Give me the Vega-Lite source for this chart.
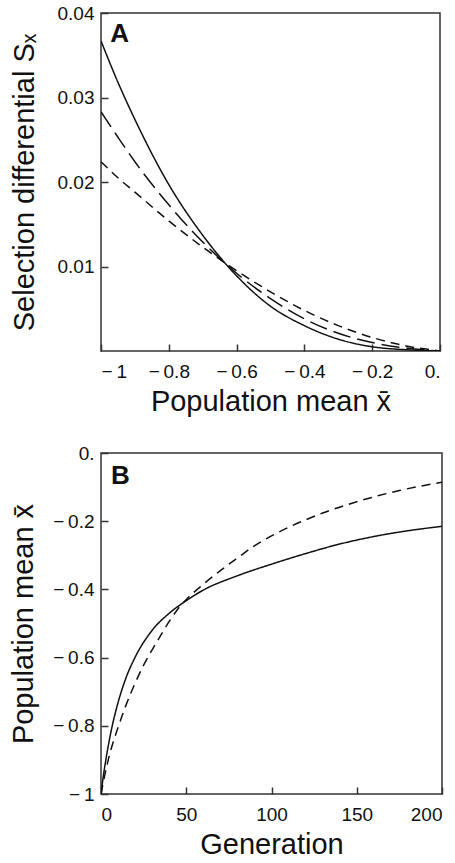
{
  "$schema": "https://vega.github.io/schema/vega-lite/v6.json",
  "padding": {"left": 8, "top": 3, "right": 14, "bottom": 5},
  "background": "white",
  "spacing": 26,
  "config": {
    "font": "Liberation Sans",
    "view": {"stroke": "#333", "strokeWidth": 1.5},
    "axis": {
      "domain": false, "grid": false, "tickSize": -7, "tickColor": "#333", "tickWidth": 1.5,
      "labelFontSize": 19, "labelColor": "#111",
      "titleFontSize": 29, "titleFontWeight": "normal", "titleColor": "#111"
    },
    "axisX": {"labelPadding": 18},
    "axisY": {"labelPadding": 14}
  },
  "vconcat": [
    {
      "width": 339, "height": 338,
      "layer": [
        {
          "data": {"values": [
            {"curve": "solid", "x": -1, "s": 0.0367}, {"curve": "solid", "x": -0.95, "s": 0.0318}, {"curve": "solid", "x": -0.9, "s": 0.0274},
            {"curve": "solid", "x": -0.8, "s": 0.0197}, {"curve": "solid", "x": -0.7, "s": 0.0137}, {"curve": "solid", "x": -0.6, "s": 0.0089},
            {"curve": "solid", "x": -0.5, "s": 0.0053}, {"curve": "solid", "x": -0.4, "s": 0.0030}, {"curve": "solid", "x": -0.3, "s": 0.0014},
            {"curve": "solid", "x": -0.2, "s": 0.0005}, {"curve": "solid", "x": -0.1, "s": 0.00015}, {"curve": "solid", "x": 0, "s": 0},
            {"curve": "long", "x": -1, "s": 0.0283}, {"curve": "long", "x": -0.95, "s": 0.0253}, {"curve": "long", "x": -0.9, "s": 0.0224},
            {"curve": "long", "x": -0.8, "s": 0.0173}, {"curve": "long", "x": -0.7, "s": 0.0129}, {"curve": "long", "x": -0.6, "s": 0.0092},
            {"curve": "long", "x": -0.5, "s": 0.0062}, {"curve": "long", "x": -0.4, "s": 0.0038}, {"curve": "long", "x": -0.3, "s": 0.0021},
            {"curve": "long", "x": -0.2, "s": 0.0010}, {"curve": "long", "x": -0.1, "s": 0.00035}, {"curve": "long", "x": 0, "s": 0},
            {"curve": "short", "x": -1, "s": 0.0224}, {"curve": "short", "x": -0.95, "s": 0.0205}, {"curve": "short", "x": -0.9, "s": 0.0188},
            {"curve": "short", "x": -0.8, "s": 0.0154}, {"curve": "short", "x": -0.7, "s": 0.0123}, {"curve": "short", "x": -0.6, "s": 0.0095},
            {"curve": "short", "x": -0.5, "s": 0.0070}, {"curve": "short", "x": -0.4, "s": 0.0048}, {"curve": "short", "x": -0.3, "s": 0.0030},
            {"curve": "short", "x": -0.2, "s": 0.0016}, {"curve": "short", "x": -0.1, "s": 0.0006}, {"curve": "short", "x": 0, "s": 0}
          ]},
          "mark": {"type": "line", "interpolate": "monotone", "strokeWidth": 1.5, "color": "#111", "clip": true},
          "encoding": {
            "x": {"field": "x", "type": "quantitative", "scale": {"domain": [-1, 0], "nice": false, "zero": false},
                  "axis": {"values": [-1, -0.8, -0.6, -0.4, -0.2, 0], "title": "Population mean x̄", "titlePadding": 6,
                           "labelExpr": "datum.value == 0 ? '0.' : '−\u2009' + format(-datum.value, '')"}},
            "y": {"field": "s", "type": "quantitative", "scale": {"domain": [0, 0.04], "nice": false},
                  "axis": {"values": [0.01, 0.02, 0.03, 0.04], "format": ".2f", "title": "Selection differential Sₓ", "titlePadding": 18}},
            "strokeDash": {"field": "curve", "type": "nominal", "scale": {"domain": ["solid", "long", "short"], "range": [[1, 0], [18, 7], [9, 6]]}, "legend": null}
          }
        },
        {
          "data": {"values": [{"label": "A"}]},
          "mark": {"type": "text", "fontSize": 26, "fontWeight": "bold", "align": "left", "baseline": "alphabetic", "color": "#111"},
          "encoding": {"x": {"datum": -0.973}, "y": {"datum": 0.0366}, "text": {"field": "label"}}
        }
      ]
    },
    {
      "width": 341, "height": 341,
      "layer": [
        {
          "data": {"values": [
            {"curve": "solid", "g": 0, "m": -1}, {"curve": "solid", "g": 1, "m": -0.961}, {"curve": "solid", "g": 3, "m": -0.895},
            {"curve": "solid", "g": 6, "m": -0.814}, {"curve": "solid", "g": 10, "m": -0.732}, {"curve": "solid", "g": 15, "m": -0.655},
            {"curve": "solid", "g": 20, "m": -0.599}, {"curve": "solid", "g": 30, "m": -0.52}, {"curve": "solid", "g": 40, "m": -0.47},
            {"curve": "solid", "g": 50, "m": -0.433}, {"curve": "solid", "g": 60, "m": -0.402}, {"curve": "solid", "g": 80, "m": -0.36},
            {"curve": "solid", "g": 100, "m": -0.326}, {"curve": "solid", "g": 120, "m": -0.295}, {"curve": "solid", "g": 140, "m": -0.267},
            {"curve": "solid", "g": 160, "m": -0.245}, {"curve": "solid", "g": 180, "m": -0.228}, {"curve": "solid", "g": 200, "m": -0.215},
            {"curve": "short", "g": 0, "m": -1}, {"curve": "short", "g": 2, "m": -0.95}, {"curve": "short", "g": 5, "m": -0.885},
            {"curve": "short", "g": 10, "m": -0.805}, {"curve": "short", "g": 15, "m": -0.735}, {"curve": "short", "g": 20, "m": -0.675},
            {"curve": "short", "g": 25, "m": -0.622}, {"curve": "short", "g": 30, "m": -0.577}, {"curve": "short", "g": 35, "m": -0.535},
            {"curve": "short", "g": 40, "m": -0.494}, {"curve": "short", "g": 45, "m": -0.458}, {"curve": "short", "g": 50, "m": -0.43},
            {"curve": "short", "g": 60, "m": -0.385}, {"curve": "short", "g": 70, "m": -0.345}, {"curve": "short", "g": 80, "m": -0.308},
            {"curve": "short", "g": 90, "m": -0.272}, {"curve": "short", "g": 100, "m": -0.243}, {"curve": "short", "g": 110, "m": -0.218},
            {"curve": "short", "g": 120, "m": -0.196}, {"curve": "short", "g": 130, "m": -0.176}, {"curve": "short", "g": 150, "m": -0.143},
            {"curve": "short", "g": 175, "m": -0.11}, {"curve": "short", "g": 200, "m": -0.086}
          ]},
          "mark": {"type": "line", "interpolate": "monotone", "strokeWidth": 1.5, "color": "#111", "clip": true},
          "encoding": {
            "x": {"field": "g", "type": "quantitative", "scale": {"domain": [0, 200], "nice": false},
                  "axis": {"values": [0, 50, 100, 150, 200], "title": "Generation", "titlePadding": 6}},
            "y": {"field": "m", "type": "quantitative", "scale": {"domain": [-1, 0], "nice": false, "zero": false},
                  "axis": {"values": [-1, -0.8, -0.6, -0.4, -0.2, 0], "title": "Population mean x̄", "titlePadding": 14,
                           "labelExpr": "datum.value == 0 ? '0.' : '−\u2009' + format(-datum.value, '')"}},
            "strokeDash": {"field": "curve", "type": "nominal", "scale": {"domain": ["solid", "short"], "range": [[1, 0], [9, 6]]}, "legend": null}
          }
        },
        {
          "data": {"values": [{"label": "B"}]},
          "mark": {"type": "text", "fontSize": 26, "fontWeight": "bold", "align": "left", "baseline": "alphabetic", "color": "#111"},
          "encoding": {"x": {"datum": 5.9}, "y": {"datum": -0.091}, "text": {"field": "label"}}
        }
      ]
    }
  ]
}
